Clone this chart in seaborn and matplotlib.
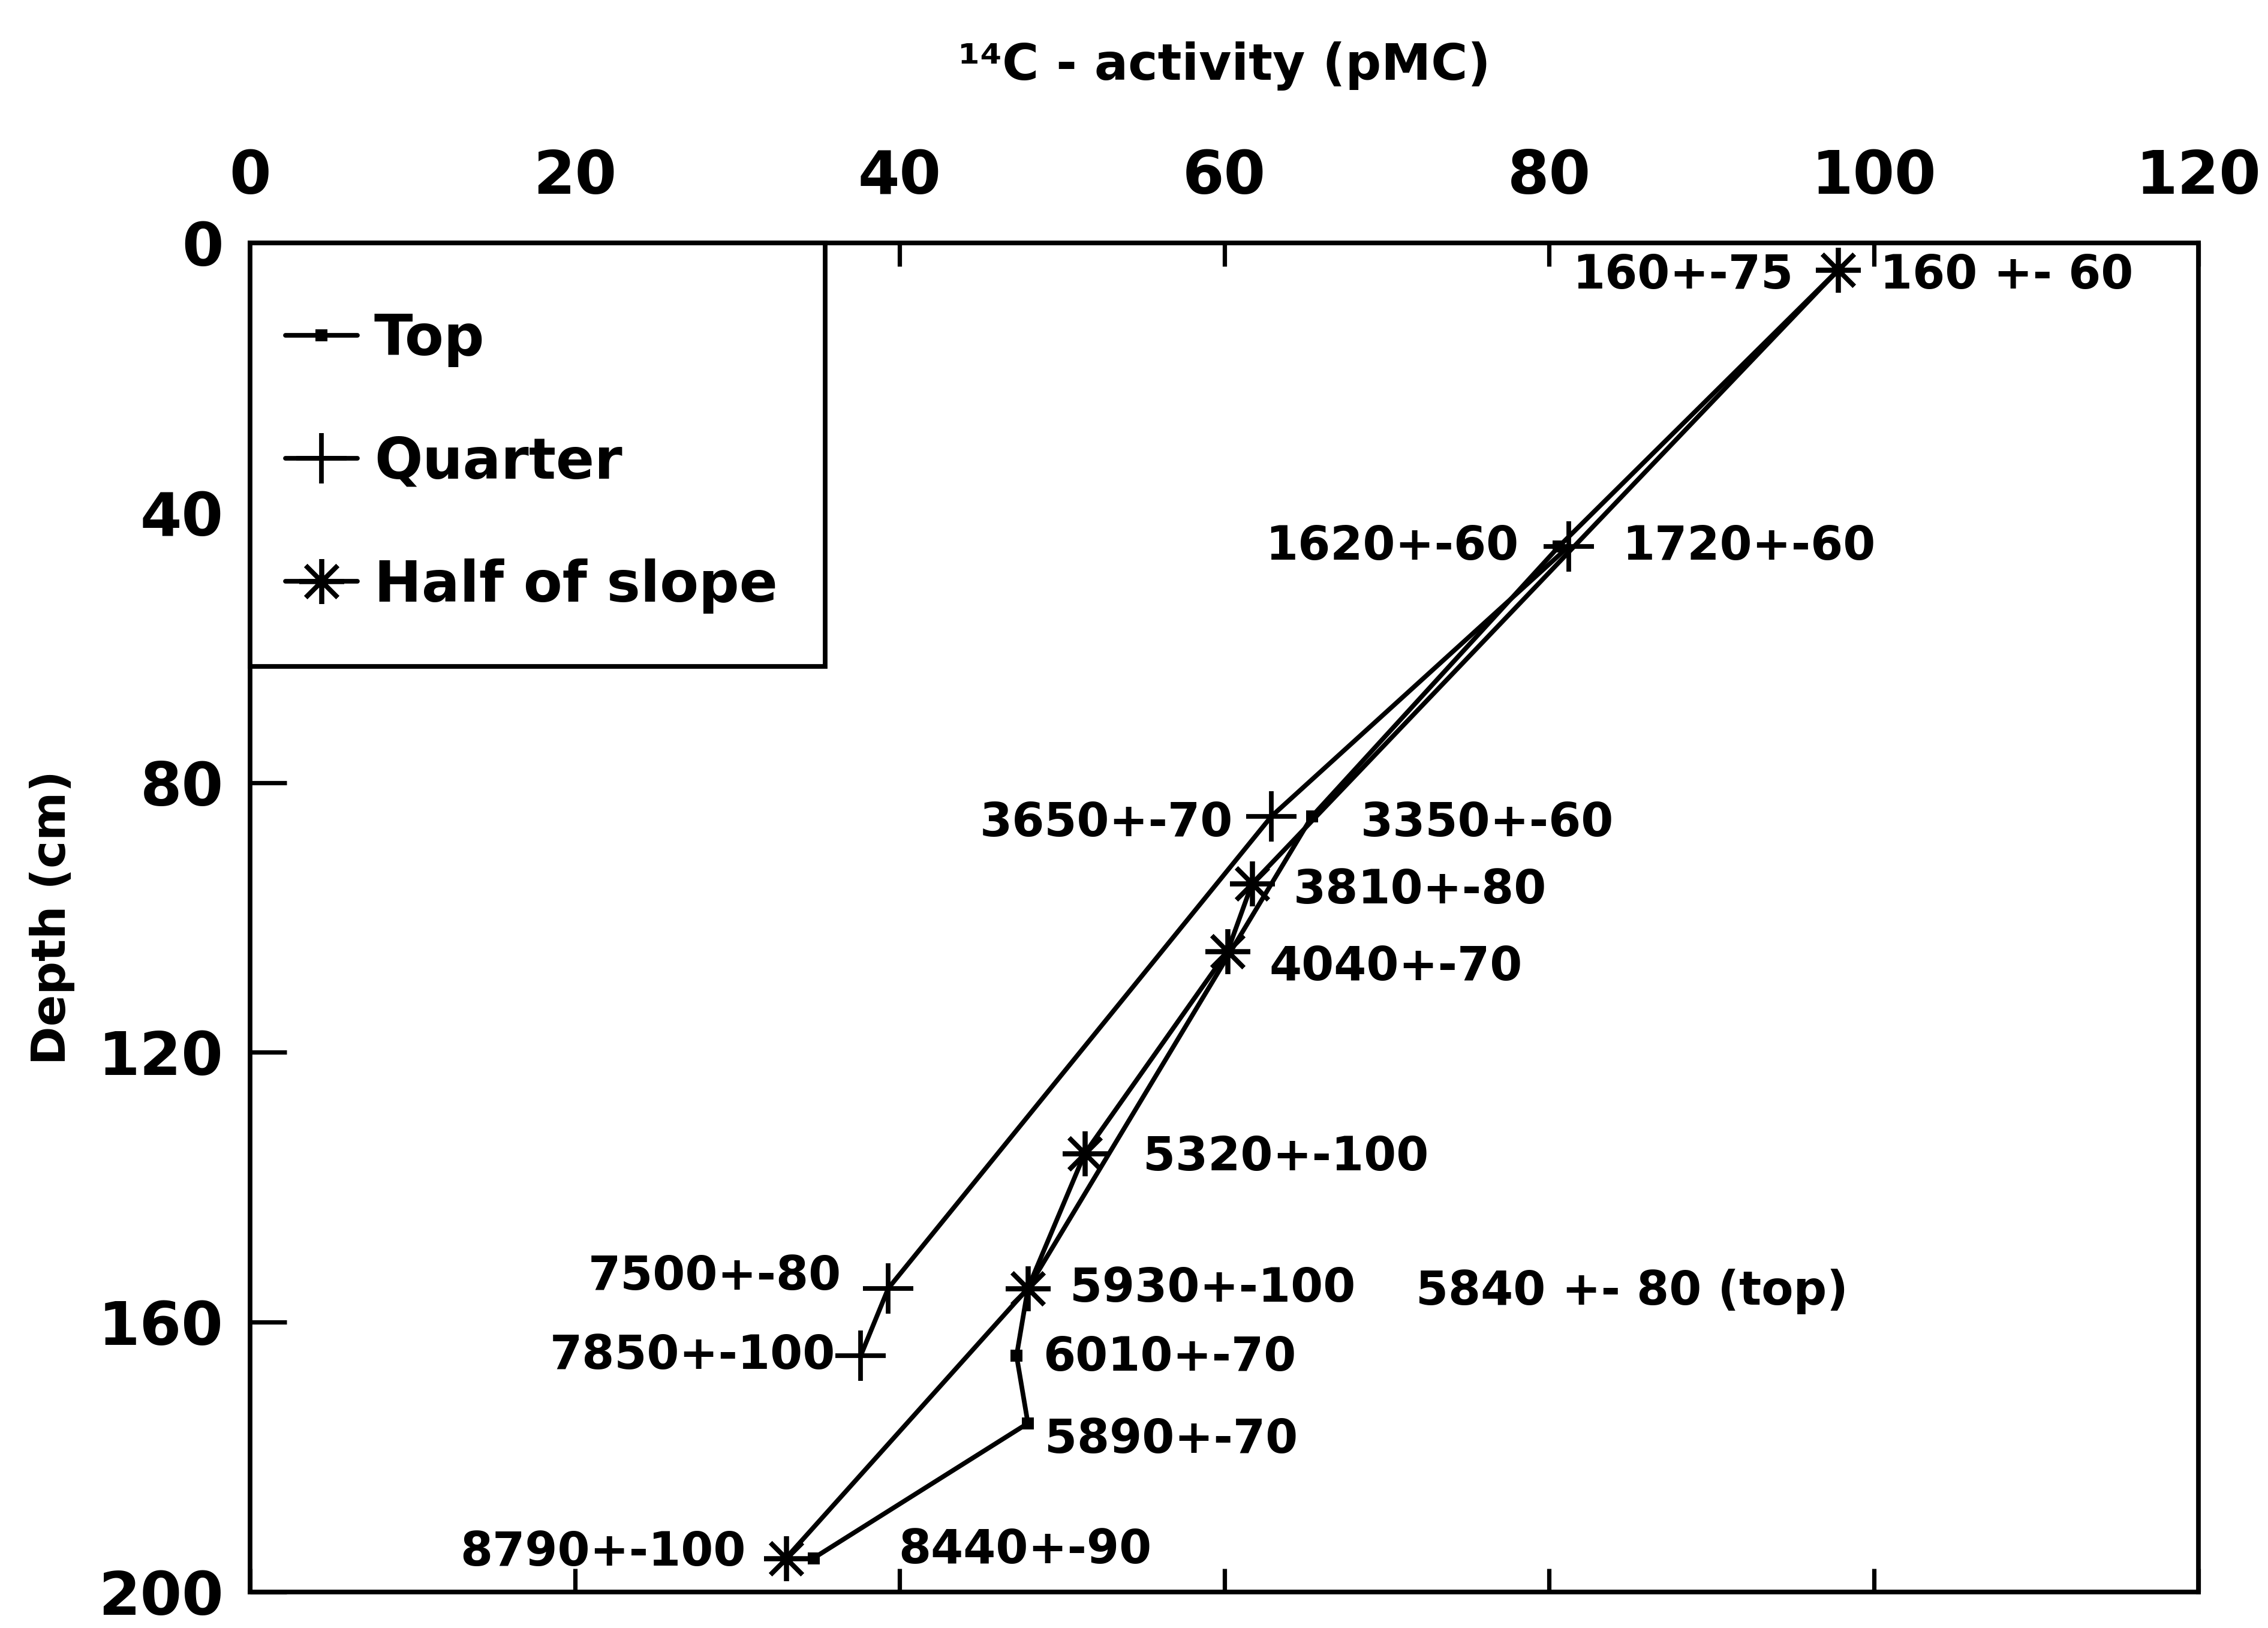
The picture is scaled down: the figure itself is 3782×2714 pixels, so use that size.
import matplotlib
matplotlib.use('Agg')
import matplotlib.pyplot as plt
from matplotlib.patches import Rectangle
import seaborn as sns

# 14C activity (pMC) against depth (cm), three sampling positions
top_depth = [4, 45, 85, 155, 165, 175, 195]
top_pmc = [97.8, 80.6, 65.4, 47.9, 47.2, 47.9, 34.7]
top_labels = ['160 +- 60', '1720+-60', '3350+-60', '5840 +- 80 (top)',
              '6010+-70', '5890+-70', '8440+-90']

quarter_depth = [45, 85, 155, 165]
quarter_pmc = [81.2, 62.9, 39.3, 37.6]
quarter_labels = ['1620+-60', '3650+-70', '7500+-80', '7850+-100']

half_depth = [4, 95, 105, 135, 155, 195]
half_pmc = [97.8, 61.7, 60.2, 51.4, 47.9, 33.0]
half_labels = ['160+-75', '3810+-80', '4040+-70', '5320+-100',
               '5930+-100', '8790+-100']

x_ticks = [0, 20, 40, 60, 80, 100, 120]
y_ticks = [0, 40, 80, 120, 160, 200]

# label offsets from their point, in points
top_off = [(25, -3), (38, 0), (29, -4), (233, -2), (16, -1), (10, -10), (51, 5)]
quarter_off = [(-30, 0), (-23, -4), (-28, 7), (-15, 0)]
half_off = [(-27, -3), (25, -4), (25, -9.5), (35, -2), (25, 0), (-24, 3.5)]

sns.set_style('ticks')
plt.rcParams['font.family'] = ['DejaVu Sans']
plt.rcParams['font.weight'] = 'bold'
for k in ['text.color', 'axes.labelcolor', 'xtick.color', 'ytick.color', 'axes.edgecolor']:
    plt.rcParams[k] = 'black'

fig = plt.figure(figsize=(3782 / 200, 2714 / 200), dpi=200)
ax = fig.add_axes([0.1103, 0.0222, 0.8591, 0.8285])

lw = 2.8
sns.lineplot(x=top_pmc, y=top_depth, sort=False, estimator=None, ax=ax,
             color='k', lw=lw, marker='s', markersize=7, mew=0,
             mfc='k', mec='k', label='Top')
sns.lineplot(x=quarter_pmc, y=quarter_depth, sort=False, estimator=None, ax=ax,
             color='k', lw=lw, marker='+', markersize=30, mew=2.8,
             mfc='k', mec='k', label='Quarter')
sns.lineplot(x=half_pmc, y=half_depth, sort=False, estimator=None, ax=ax,
             color='k', lw=lw, marker=(8, 2, 0), markersize=27, mew=2.8,
             mfc='k', mec='k', label='Half of slope')

for xs, ys, labs, offs in [(top_pmc, top_depth, top_labels, top_off),
                           (quarter_pmc, quarter_depth, quarter_labels, quarter_off),
                           (half_pmc, half_depth, half_labels, half_off)]:
    for x, y, t, (dx, dy) in zip(xs, ys, labs, offs):
        ax.annotate(t, (x, y), xytext=(dx, dy), textcoords='offset points',
                    ha='left' if dx > 0 else 'right', va='center',
                    fontsize=28, fontweight='bold')

ax.set_xlim(0, 120)
ax.set_ylim(200, 0)
ax.set_xticks(x_ticks)
ax.set_yticks(y_ticks)
ax.xaxis.set_label_position('top')
ax.tick_params(axis='x', top=True, bottom=True, labeltop=True, labelbottom=False,
               direction='in', length=14, width=2.6, pad=22, labelsize=36)
ax.tick_params(axis='y', left=True, right=False, direction='in',
               length=22, width=2.6, pad=16, labelsize=36)
for lab in ax.get_xticklabels() + ax.get_yticklabels():
    lab.set_fontweight('bold')
for s in ax.spines.values():
    s.set_visible(True)
    s.set_linewidth(2.8)
    s.set_color('k')

ax.set_xlabel('¹⁴C - activity (pMC)', fontsize=30, fontweight='bold', labelpad=41)
ax.set_ylabel('Depth (cm)', fontsize=28, fontweight='bold', labelpad=14)

# legend frame drawn as its own box so the entries can sit close to the left edge
ax.add_patch(Rectangle((0, 0.686), 0.295, 0.314, transform=ax.transAxes,
                       facecolor='white', edgecolor='k', lw=2.8, zorder=5,
                       clip_on=False))
leg = ax.legend(loc='upper left', bbox_to_anchor=(0.018, 0.949),
                borderaxespad=0, borderpad=0, frameon=False,
                prop={'size': 34, 'weight': 'bold'},
                handlelength=1.27, handletextpad=0.3, labelspacing=1.2)
leg.set_zorder(6)

fig.savefig('out.png', dpi=200)
